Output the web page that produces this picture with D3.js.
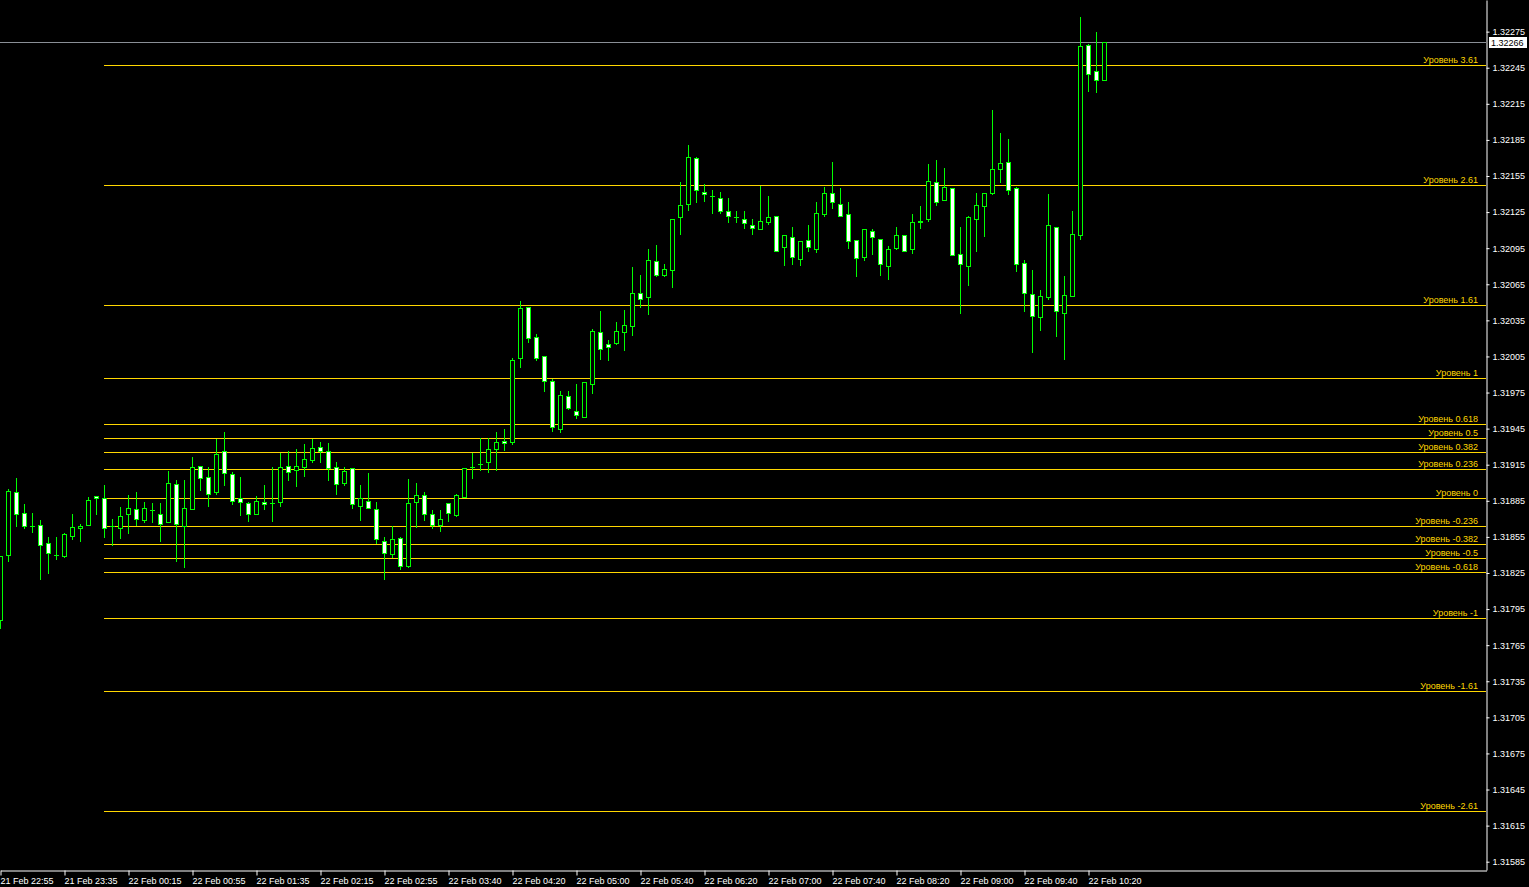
<!DOCTYPE html>
<html><head><meta charset="utf-8">
<script src="https://cdn.jsdelivr.net/npm/d3@7"></script>
<style>
html,body{margin:0;padding:0;background:#000;overflow:hidden;}
svg{display:block;}
text{font-family:"Liberation Sans",Arial,sans-serif;font-size:9px;}
</style></head><body>
<svg id="chart" width="1529" height="887"></svg>
<script>
// ---- data ----
const timeLabels = ["21 Feb 22:55","21 Feb 23:35","22 Feb 00:15","22 Feb 00:55","22 Feb 01:35","22 Feb 02:15","22 Feb 02:55","22 Feb 03:40","22 Feb 04:20","22 Feb 05:00","22 Feb 05:40","22 Feb 06:20","22 Feb 07:00","22 Feb 07:40","22 Feb 08:20","22 Feb 09:00","22 Feb 09:40","22 Feb 10:20"];
const labelEvery = 8;

const opens = [1.31786,1.31840,1.31892,1.31875,1.31864,1.31865,1.31850,1.31840,1.31839,1.31856,1.31862,1.31865,1.31889,1.31887,1.31864,1.31862,1.31874,1.31878,1.31869,1.31877,1.31874,1.31867,1.31899,1.31864,1.31878,1.31914,1.31905,1.31892,1.31926,1.31907,1.31887,1.31883,1.31874,1.31884,1.31883,1.31884,1.31914,1.31911,1.31913,1.31919,1.31930,1.31926,1.31913,1.31900,1.31912,1.31881,1.31885,1.31878,1.31852,1.31841,1.31854,1.31831,1.31884,1.31890,1.31874,1.31865,1.31883,1.31873,1.31888,1.31913,1.31916,1.31917,1.31928,1.31935,1.31934,1.32004,1.32046,1.32021,1.32005,1.31985,1.31945,1.31972,1.31960,1.31955,1.31982,1.32025,1.32015,1.32016,1.32025,1.32030,1.32058,1.32054,1.32084,1.32073,1.32077,1.32121,1.32132,1.32170,1.32142,1.32138,1.32137,1.32126,1.32121,1.32119,1.32114,1.32111,1.32117,1.32122,1.32096,1.32104,1.32086,1.32102,1.32094,1.32123,1.32141,1.32132,1.32123,1.32102,1.32088,1.32109,1.32103,1.32080,1.32095,1.32106,1.32094,1.32117,1.32119,1.32150,1.32135,1.32145,1.32090,1.32080,1.32119,1.32130,1.32141,1.32161,1.32167,1.32145,1.32083,1.32057,1.32038,1.32054,1.32113,1.32041,1.32055,1.32106,1.32264,1.32242,1.32235];
const highs = [1.31839,1.31895,1.31904,1.31882,1.31875,1.31869,1.31855,1.31855,1.31858,1.31874,1.31866,1.31888,1.31889,1.31898,1.31870,1.31880,1.31890,1.31892,1.31884,1.31883,1.31883,1.31910,1.31902,1.31902,1.31921,1.31914,1.31913,1.31936,1.31942,1.31909,1.31905,1.31884,1.31889,1.31898,1.31913,1.31925,1.31926,1.31928,1.31932,1.31936,1.31934,1.31933,1.31917,1.31913,1.31912,1.31898,1.31908,1.31884,1.31855,1.31864,1.31855,1.31903,1.31900,1.31892,1.31877,1.31877,1.31883,1.31891,1.31912,1.31925,1.31937,1.31937,1.31942,1.31945,1.32004,1.32051,1.32046,1.32024,1.32005,1.31986,1.31976,1.31976,1.31982,1.31984,1.32028,1.32043,1.32019,1.32034,1.32044,1.32079,1.32073,1.32094,1.32098,1.32082,1.32119,1.32150,1.32181,1.32171,1.32148,1.32143,1.32142,1.32137,1.32126,1.32126,1.32119,1.32147,1.32138,1.32122,1.32106,1.32113,1.32101,1.32114,1.32133,1.32146,1.32167,1.32145,1.32133,1.32102,1.32111,1.32111,1.32103,1.32097,1.32113,1.32106,1.32123,1.32130,1.32165,1.32168,1.32162,1.32145,1.32113,1.32122,1.32141,1.32141,1.32210,1.32191,1.32186,1.32146,1.32085,1.32077,1.32060,1.32140,1.32113,1.32072,1.32126,1.32287,1.32265,1.32275,1.32266];
const lows = [1.31779,1.31835,1.31864,1.31862,1.31859,1.31820,1.31825,1.31837,1.31838,1.31853,1.31852,1.31865,1.31874,1.31855,1.31848,1.31854,1.31858,1.31865,1.31867,1.31867,1.31852,1.31867,1.31835,1.31830,1.31878,1.31894,1.31881,1.31891,1.31898,1.31882,1.31873,1.31868,1.31874,1.31878,1.31868,1.31881,1.31902,1.31897,1.31906,1.31917,1.31917,1.31902,1.31891,1.31898,1.31879,1.31869,1.31879,1.31850,1.31820,1.31838,1.31828,1.31830,1.31863,1.31869,1.31862,1.31860,1.31868,1.31872,1.31888,1.31904,1.31911,1.31909,1.31911,1.31927,1.31932,1.31996,1.32017,1.32002,1.31976,1.31943,1.31942,1.31961,1.31954,1.31955,1.31975,1.32003,1.32002,1.32015,1.32010,1.32023,1.32046,1.32040,1.32072,1.32072,1.32063,1.32107,1.32127,1.32133,1.32134,1.32124,1.32124,1.32117,1.32117,1.32112,1.32107,1.32111,1.32115,1.32093,1.32081,1.32082,1.32081,1.32093,1.32092,1.32122,1.32128,1.32122,1.32095,1.32072,1.32085,1.32090,1.32073,1.32069,1.32094,1.32093,1.32091,1.32112,1.32118,1.32131,1.32135,1.32089,1.32041,1.32064,1.32093,1.32105,1.32140,1.32150,1.32140,1.32076,1.32043,1.32009,1.32027,1.32053,1.32022,1.32003,1.32055,1.32103,1.32226,1.32225,1.32235];
const closes = [1.31839,1.31893,1.31874,1.31864,1.31864,1.31848,1.31842,1.31840,1.31857,1.31863,1.31864,1.31886,1.31887,1.31862,1.31864,1.31872,1.31879,1.31870,1.31879,1.31877,1.31866,1.31900,1.31866,1.31879,1.31913,1.31904,1.31891,1.31924,1.31908,1.31885,1.31884,1.31874,1.31885,1.31882,1.31883,1.31913,1.31909,1.31914,1.31920,1.31929,1.31926,1.31912,1.31899,1.31910,1.31882,1.31887,1.31879,1.31853,1.31842,1.31853,1.31831,1.31883,1.31890,1.31874,1.31865,1.31870,1.31875,1.31890,1.31912,1.31913,1.31916,1.31928,1.31934,1.31933,1.32002,1.32045,1.32020,1.32004,1.31985,1.31946,1.31973,1.31962,1.31956,1.31984,1.32026,1.32011,1.32013,1.32026,1.32031,1.32058,1.32053,1.32085,1.32073,1.32078,1.32119,1.32131,1.32171,1.32143,1.32140,1.32138,1.32126,1.32122,1.32121,1.32116,1.32112,1.32118,1.32121,1.32093,1.32106,1.32088,1.32101,1.32096,1.32124,1.32141,1.32133,1.32122,1.32101,1.32087,1.32111,1.32104,1.32082,1.32094,1.32106,1.32093,1.32117,1.32118,1.32151,1.32133,1.32146,1.32089,1.32082,1.32121,1.32131,1.32141,1.32161,1.32166,1.32143,1.32082,1.32058,1.32039,1.32055,1.32114,1.32043,1.32056,1.32107,1.32263,1.32240,1.32235,1.32266];

const priceTicks = [1.31585,1.31615,1.31645,1.31675,1.31705,1.31735,1.31765,1.31795,1.31825,1.31855,1.31885,1.31915,1.31945,1.31975,1.32005,1.32035,1.32065,1.32095,1.32125,1.32155,1.32185,1.32215,1.32245,1.32275];

const fiboLevels = [3.61,2.61,1.61,1,0.618,0.5,0.382,0.236,0,-0.236,-0.382,-0.5,-0.618,-1,-1.61,-2.61];
const fiboLabels = ["Уровень 3.61","Уровень 2.61","Уровень 1.61","Уровень 1","Уровень 0.618","Уровень 0.5","Уровень 0.382","Уровень 0.236","Уровень 0","Уровень -0.236","Уровень -0.382","Уровень -0.5","Уровень -0.618","Уровень -1","Уровень -1.61","Уровень -2.61"];
const fiboPrice0 = 1.318875;
const fiboPrice1 = 1.319872;
const fiboStartBar = 13;
const currentPrice = 1.32266;

// ---- styles ----
const W = 1529, H = 887;
const plotRight = 1486, plotBottom = 870;
const C_CANDLE = "#00ff00", C_BEAR = "#ffffff", C_BULL = "#000000";
const C_FIBO = "#ffd700", C_BID = "#8a8f96", C_AXIS = "#ffffff";

const svg = d3.select("#chart");
svg.append("rect").attr("width", W).attr("height", H).attr("fill", "#000");

const x = d3.scaleLinear().domain([0, plotRight / 8]).range([0, plotRight]);
const y = d3.scaleLinear().domain([1.315781, 1.323013]).range([plotBottom, 0]);
const py = v => Math.round(y(v));
const px = i => Math.round(x(i));

// fibo
const fg = svg.append("g");
fiboLevels.forEach((lv, k) => {
  const p = fiboPrice0 + (fiboPrice1 - fiboPrice0) * lv;
  const yy = py(p) + 0.5;
  fg.append("line").attr("x1", px(fiboStartBar)).attr("x2", plotRight)
    .attr("y1", yy).attr("y2", yy).attr("stroke", C_FIBO).attr("stroke-width", 1);
  fg.append("text").attr("x", plotRight - 8).attr("y", yy - 3)
    .attr("text-anchor", "end").attr("fill", C_FIBO).text(fiboLabels[k]);
});

// bid line
svg.append("line").attr("x1", 0).attr("x2", plotRight)
  .attr("y1", py(currentPrice) + 0.5).attr("y2", py(currentPrice) + 0.5)
  .attr("stroke", C_BID).attr("stroke-width", 1);

// candles
const bars = d3.range(opens.length).map(i => ({i, o: opens[i], h: highs[i], l: lows[i], c: closes[i]}));
const cg = svg.append("g");
cg.selectAll("line.wick").data(bars).join("line")
  .attr("class", "wick")
  .attr("x1", d => px(d.i) + 0.5).attr("x2", d => px(d.i) + 0.5)
  .attr("y1", d => py(d.h)).attr("y2", d => py(d.l) + 1)
  .attr("stroke", C_CANDLE).attr("stroke-width", 1);
cg.selectAll("rect.body").data(bars.filter(d => d.o !== d.c)).join("rect")
  .attr("class", "body")
  .attr("x", d => px(d.i) - 1.5).attr("width", 4)
  .attr("y", d => py(Math.max(d.o, d.c)) + 0.5)
  .attr("height", d => Math.max(0, py(Math.min(d.o, d.c)) - py(Math.max(d.o, d.c))))
  .attr("fill", d => d.c > d.o ? C_BULL : C_BEAR)
  .attr("stroke", C_CANDLE).attr("stroke-width", 1);
cg.selectAll("line.doji").data(bars.filter(d => d.o === d.c)).join("line")
  .attr("class", "doji")
  .attr("x1", d => px(d.i) - 2).attr("x2", d => px(d.i) + 3)
  .attr("y1", d => py(d.o) + 0.5).attr("y2", d => py(d.o) + 0.5)
  .attr("stroke", C_CANDLE).attr("stroke-width", 1);

// right price axis
const yAxis = d3.axisRight(y).tickValues(priceTicks).tickFormat(d3.format(".5f"))
  .tickSize(3).tickSizeOuter(0).tickPadding(3);
const ya = svg.append("g").attr("transform", `translate(${plotRight + 0.5},0)`).call(yAxis);
ya.select(".domain").attr("stroke", C_AXIS);
ya.selectAll(".tick line").attr("stroke", C_AXIS);
ya.selectAll(".tick text").attr("fill", C_AXIS).style("font-family", '"Liberation Sans",Arial,sans-serif').style("font-size", "9px");

// bottom time axis
const tickIdx = timeLabels.map((_, k) => k * labelEvery);
const xAxis = d3.axisBottom(x).tickValues(tickIdx).tickFormat((d, k) => timeLabels[k])
  .tickSize(5).tickSizeOuter(0).tickPadding(2);
const xa = svg.append("g").attr("transform", `translate(0.5,${plotBottom + 0.5})`).call(xAxis);
xa.select(".domain").attr("stroke", C_AXIS);
xa.selectAll(".tick line").attr("stroke", C_AXIS);
xa.selectAll(".tick text").attr("fill", C_AXIS).attr("text-anchor", "start").attr("x", -0.5)
  .style("font-family", '"Liberation Sans",Arial,sans-serif').style("font-size", "9px");

// current price box
const by = py(currentPrice);
svg.append("rect").attr("x", 1489).attr("y", by - 5).attr("width", 38).attr("height", 11).attr("fill", "#fff");
svg.append("text").attr("x", 1491).attr("y", by + 4).attr("fill", "#000").text(d3.format(".5f")(currentPrice));
</script>
</body></html>
